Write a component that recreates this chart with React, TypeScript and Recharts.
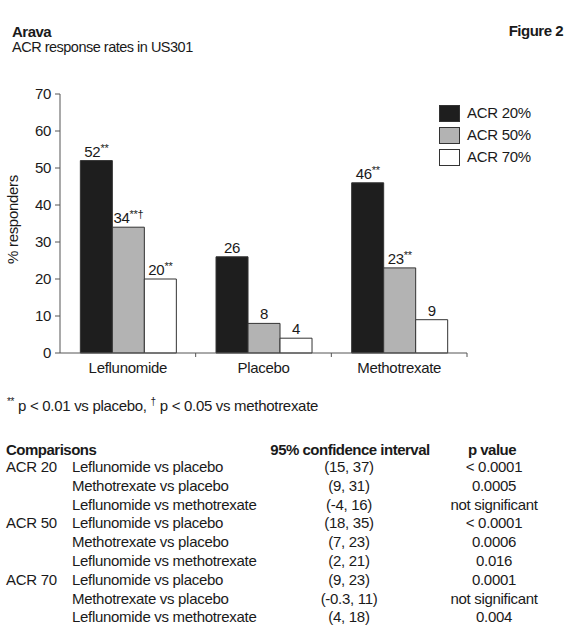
import React from 'react';
import { BarChart, Bar, XAxis, YAxis, Legend, LabelList } from 'recharts';

// Valeurs
const categories = ['Leflunomide', 'Placebo', 'Methotrexate'];
const acr20 = [52, 26, 46];
const acr50 = [34, 8, 23];
const acr70 = [20, 4, 9];
const acr20Marks = ['**', '', '**'];
const acr50Marks = ['**†', '', '**'];
const acr70Marks = ['**', '', ''];
const seriesNames = ['ACR 20%', 'ACR 50%', 'ACR 70%'];
const seriesColors = ['#1e1e1e', '#b3b3b3', '#ffffff'];
const yTicks = [0, 10, 20, 30, 40, 50, 60, 70];

// Tableau des comparaisons
const groups = ['ACR 20', 'ACR 50', 'ACR 70'];
const comparisons = ['Leflunomide vs placebo', 'Methotrexate vs placebo', 'Leflunomide vs methotrexate'];
const confidenceIntervals = [
  ['(15, 37)', '(9, 31)', '(-4, 16)'],
  ['(18, 35)', '(7, 23)', '(2, 21)'],
  ['(9, 23)', '(-0.3, 11)', '(4, 18)'],
];
const pValues = [
  ['< 0.0001', '0.0005', 'not significant'],
  ['< 0.0001', '0.0006', '0.016'],
  ['0.0001', 'not significant', '0.004'],
];

const data = categories.map((c, i) => ({
  category: c,
  acr20: acr20[i],
  acr50: acr50[i],
  acr70: acr70[i],
}));

const FONT = '"Liberation Sans", Arial, sans-serif';
const TEXT = '#1a1a1a';
const AXIS = '#555';

const makeBarLabel = (marks: string[]) => (props: any) => {
  const { x, y, width, value, index } = props;
  const mark = marks[index];
  return (
    <text x={x + width / 2} y={y - 4} textAnchor="middle" fontSize={15} fill={TEXT}>
      {value}
      {mark ? <tspan fontSize={11} dy={-5}>{mark}</tspan> : null}
    </text>
  );
};

const CategoryTick = (props: any) => {
  const { x, y, payload } = props;
  const half = payload.offset ?? 0;
  const axisY = y - 9;
  return (
    <g>
      <line x1={x + half} x2={x + half} y1={axisY} y2={axisY + 4} stroke={AXIS} />
      <text x={x} y={y} dy="0.71em" textAnchor="middle" fontSize={15} fill={TEXT}>
        {payload.value}
      </text>
    </g>
  );
};

const YLabel = (props: any) => {
  const { viewBox } = props;
  const cx = 12;
  const cy = viewBox.y + viewBox.height / 2 - 4;
  return (
    <text x={cx} y={cy} transform={`rotate(-90 ${cx} ${cy})`} textAnchor="middle" dominantBaseline="central" fontSize={15} fill={TEXT}>
      % responders
    </text>
  );
};

const LegendBox = (props: any) => (
  <div>
    {(props.payload || []).map((entry: any, i: number) => (
      <div key={entry.value} style={{ display: 'flex', alignItems: 'center', height: 22 }}>
        <div style={{ width: 21, height: 17, background: seriesColors[i], border: '1px solid #333', boxSizing: 'border-box' }} />
        <span style={{ marginLeft: 7, fontSize: 15, color: TEXT, lineHeight: '16px' }}>{entry.value}</span>
      </div>
    ))}
  </div>
);

const abs = (top: number, left: number, extra: React.CSSProperties = {}): React.CSSProperties => ({
  position: 'absolute',
  top,
  left,
  fontSize: 15,
  lineHeight: '16px',
  color: TEXT,
  whiteSpace: 'nowrap',
  ...extra,
});

const sup: React.CSSProperties = { fontSize: 10, verticalAlign: 'super', lineHeight: 0 };

const App: React.FC = () => {
  const rowTop = (i: number) => 459 + i * 18.8;
  return (
    <div
      style={{
        position: 'absolute',
        top: 0,
        left: 0,
        width: 572,
        height: 639,
        background: '#fff',
        fontFamily: FONT,
        letterSpacing: '-0.3px',
      }}
    >
      <div style={abs(24, 12, { fontWeight: 'bold', letterSpacing: '-0.5px' })}>Arava</div>
      <div style={abs(39, 12, { fontSize: 14.5, letterSpacing: '-0.5px' })}>ACR response rates in US301</div>
      <div style={abs(23, 0, { width: 563, textAlign: 'right', fontWeight: 'bold', letterSpacing: '-0.5px' })}>Figure 2</div>

      <div style={{ position: 'absolute', top: 0, left: 0 }}>
        <BarChart
          width={572}
          height={395}
          data={data}
          margin={{ top: 94, right: 105, left: 0, bottom: 12 }}
          barCategoryGap="15%"
          barGap={0}
        >
          <XAxis
            dataKey="category"
            height={30}
            stroke={AXIS}
            tickLine={false}
            tickSize={4}
            tickMargin={5}
            tick={<CategoryTick />}
            interval={0}
          />
          <YAxis
            width={60}
            domain={[0, 70]}
            ticks={yTicks}
            interval={0}
            stroke={AXIS}
            tickSize={5}
            tickMargin={4}
            tick={{ fontSize: 15, fill: TEXT }}
            label={<YLabel />}
          />
          <Legend
            layout="vertical"
            verticalAlign="middle"
            align="center"
            content={<LegendBox />}
            wrapperStyle={{ top: 102, left: 439, width: 110, height: 66 }}
          />
          <Bar dataKey="acr20" name={seriesNames[0]} fill={seriesColors[0]} stroke="#333" isAnimationActive={false}>
            <LabelList dataKey="acr20" content={makeBarLabel(acr20Marks)} />
          </Bar>
          <Bar dataKey="acr50" name={seriesNames[1]} fill={seriesColors[1]} stroke="#333" isAnimationActive={false}>
            <LabelList dataKey="acr50" content={makeBarLabel(acr50Marks)} />
          </Bar>
          <Bar dataKey="acr70" name={seriesNames[2]} fill={seriesColors[2]} stroke="#333" isAnimationActive={false}>
            <LabelList dataKey="acr70" content={makeBarLabel(acr70Marks)} />
          </Bar>
        </BarChart>
      </div>

      <div style={abs(398, 7)}>
        <span style={sup}>**</span> p &lt; 0.01 vs placebo, <span style={sup}>†</span> p &lt; 0.05 vs methotrexate
      </div>

      <div style={abs(442, 6, { fontWeight: 'bold', letterSpacing: '-0.5px' })}>Comparisons</div>
      <div style={abs(442, 250, { width: 200, textAlign: 'center', fontWeight: 'bold', letterSpacing: '-0.5px' })}>
        95% confidence interval
      </div>
      <div style={abs(442, 442, { width: 100, textAlign: 'center', fontWeight: 'bold', letterSpacing: '-0.5px' })}>p value</div>

      {groups.map((g, gi) =>
        comparisons.map((c, ci) => {
          const top = rowTop(gi * 3 + ci);
          return (
            <React.Fragment key={g + c}>
              {ci === 0 ? <div style={abs(top, 6)}>{g}</div> : null}
              <div style={abs(top, 72)}>{c}</div>
              <div style={abs(top, 279, { width: 140, textAlign: 'center' })}>{confidenceIntervals[gi][ci]}</div>
              <div style={abs(top, 434, { width: 120, textAlign: 'center' })}>{pValues[gi][ci]}</div>
            </React.Fragment>
          );
        })
      )}
    </div>
  );
};

export default App;
